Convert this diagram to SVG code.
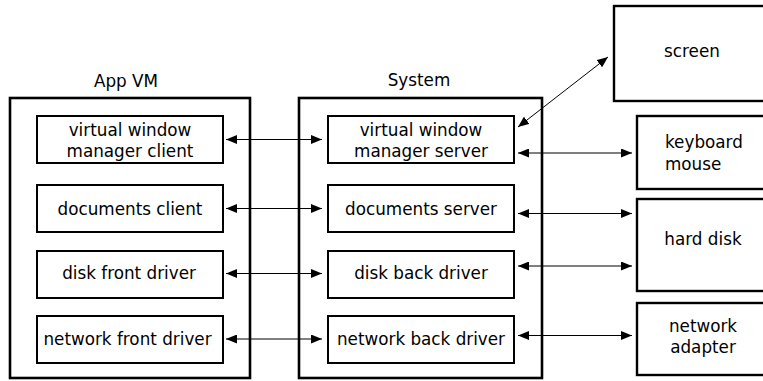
<svg xmlns="http://www.w3.org/2000/svg" width="763" height="381" viewBox="0 0 763 381">
  <style>
    .outer { fill: none; stroke: #000; stroke-width: 2.6; }
    .box { fill: #fff; stroke: #000; stroke-width: 2; }
    .dev { fill: #fff; stroke: #000; stroke-width: 2.4; }
    .lbl { font-family: "DejaVu Sans", sans-serif; font-size: 16.8px; fill: #000; }
    .mid { text-anchor: middle; }
    .link { stroke: #000; stroke-width: 1; fill: none; marker-start: url(#head); marker-end: url(#head); }
  </style>
  <defs>
    <marker id="head" markerUnits="userSpaceOnUse" markerWidth="11" markerHeight="9" refX="11" refY="4.5" orient="auto-start-reverse">
      <path d="M0,0 L11,4.5 L0,9 Z" fill="#000"/>
    </marker>
  </defs>
  <rect width="763" height="381" fill="#fff"/>

  <!-- App VM container -->
  <g id="app-vm">
    <rect class="outer" x="10" y="98" width="240" height="280"/>
    <text class="lbl mid" x="126" y="87">App VM</text>
  </g>
  <g id="vwm-client">
    <rect class="box" x="37" y="116" width="186" height="47"/>
    <text class="lbl mid" x="130" y="135.5">virtual window</text>
    <text class="lbl mid" x="130" y="156.5">manager client</text>
  </g>
  <g id="documents-client">
    <rect class="box" x="37" y="185" width="186" height="47"/>
    <text class="lbl mid" x="130" y="214.5">documents client</text>
  </g>
  <g id="disk-front-driver">
    <rect class="box" x="37" y="251" width="186" height="47"/>
    <text class="lbl mid" x="129" y="279">disk front driver</text>
  </g>
  <g id="network-front-driver">
    <rect class="box" x="37" y="316" width="186" height="47"/>
    <text class="lbl mid" x="127.5" y="344.5">network front driver</text>
  </g>

  <!-- System container -->
  <g id="system">
    <rect class="outer" x="299" y="98" width="243" height="280"/>
    <text class="lbl mid" x="419" y="86">System</text>
  </g>
  <g id="vwm-server">
    <rect class="box" x="328" y="116" width="186" height="47"/>
    <text class="lbl mid" x="421" y="135.5">virtual window</text>
    <text class="lbl mid" x="421" y="156.5">manager server</text>
  </g>
  <g id="documents-server">
    <rect class="box" x="328" y="185" width="186" height="47"/>
    <text class="lbl mid" x="421" y="214.5">documents server</text>
  </g>
  <g id="disk-back-driver">
    <rect class="box" x="328" y="251" width="186" height="47"/>
    <text class="lbl mid" x="421" y="279">disk back driver</text>
  </g>
  <g id="network-back-driver">
    <rect class="box" x="328" y="316" width="186" height="47"/>
    <text class="lbl mid" x="421" y="344.5">network back driver</text>
  </g>

  <!-- Hardware devices -->
  <g id="screen">
    <rect class="dev" x="614" y="6" width="170" height="95" stroke-width="3"/>
    <text class="lbl mid" x="692" y="57">screen</text>
  </g>
  <g id="keyboard-mouse">
    <rect class="dev" x="637" y="116" width="150" height="73"/>
    <text class="lbl" x="665" y="148">keyboard</text>
    <text class="lbl" x="665" y="170">mouse</text>
  </g>
  <g id="hard-disk">
    <rect class="dev" x="637" y="199" width="150" height="92"/>
    <text class="lbl mid" x="703" y="245">hard disk</text>
  </g>
  <g id="network-adapter">
    <rect class="dev" x="637" y="303" width="150" height="72"/>
    <text class="lbl mid" x="703" y="332">network</text>
    <text class="lbl mid" x="703" y="353">adapter</text>
  </g>

  <!-- Connectors -->
  <g id="connectors">
    <line class="link" x1="226" y1="139.5" x2="322" y2="139.5"/>
    <line class="link" x1="226" y1="208.5" x2="322" y2="208.5"/>
    <line class="link" x1="226" y1="273.5" x2="322" y2="273.5"/>
    <line class="link" x1="226" y1="339" x2="322" y2="339"/>
    <line class="link" x1="518" y1="127" x2="608" y2="57"/>
    <line class="link" x1="518" y1="153" x2="632" y2="153"/>
    <line class="link" x1="518" y1="213.5" x2="632" y2="213.5"/>
    <line class="link" x1="518" y1="266" x2="632" y2="266"/>
    <line class="link" x1="518" y1="335.5" x2="632" y2="335.5"/>
  </g>
</svg>
